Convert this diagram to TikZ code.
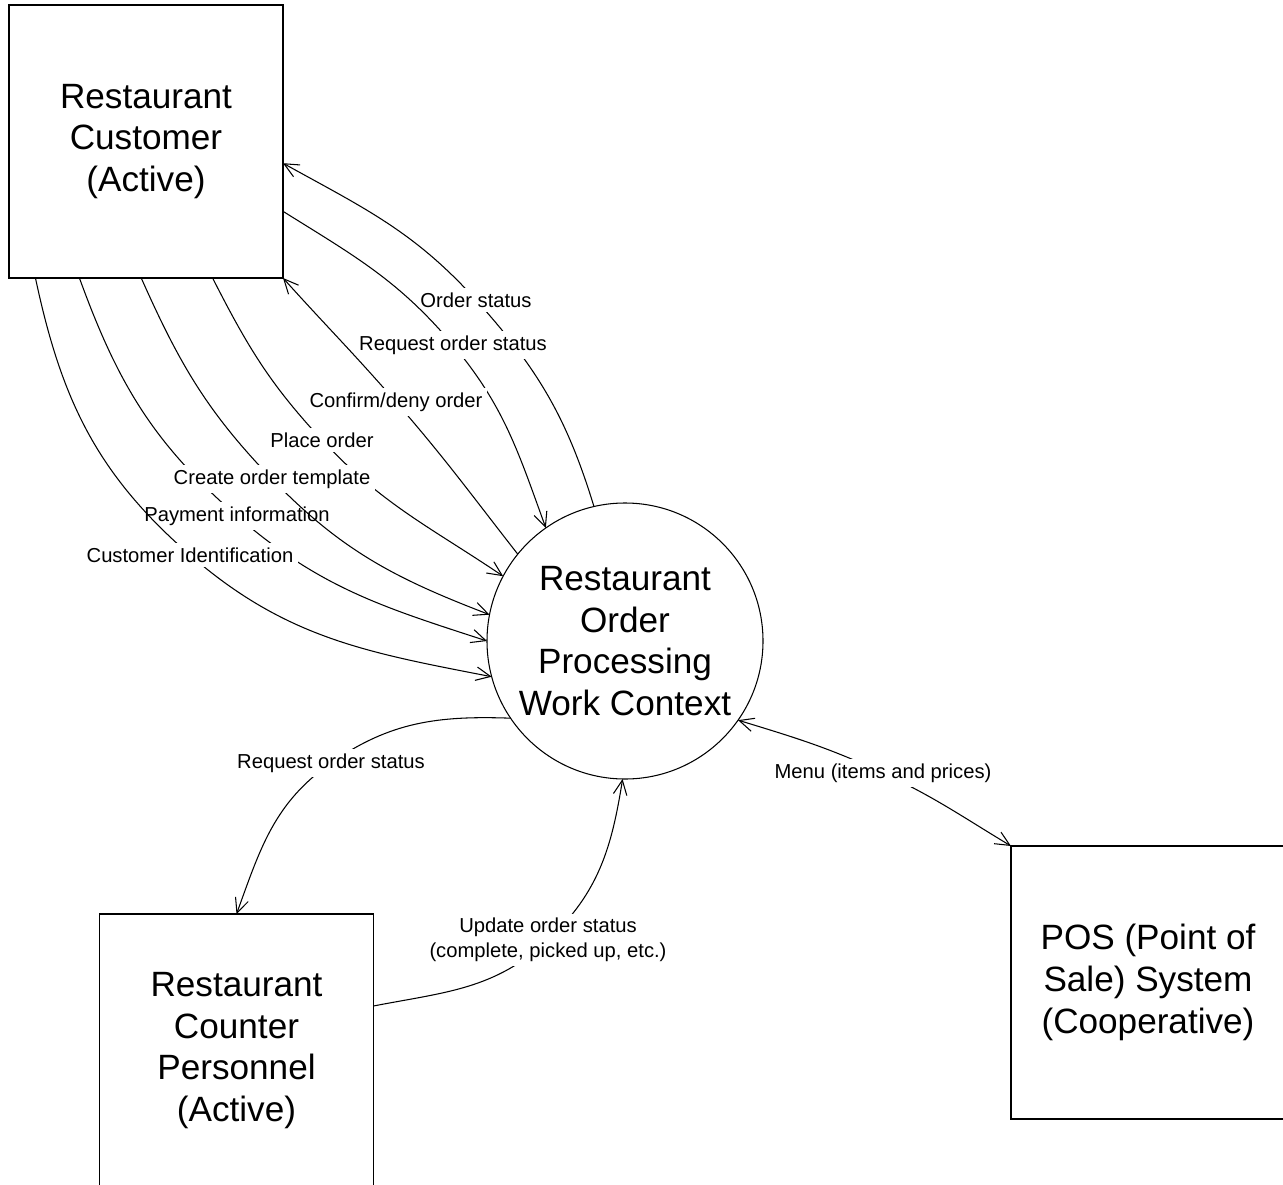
\documentclass[tikz,border=0pt]{standalone}
\usepackage{fontspec}
\setmainfont{Liberation Sans}
\usepackage{tikz}
\usetikzlibrary{arrows.meta}

\tikzset{
  >={Straight Barb[length=2.9mm,width=2.7mm]},
  entity/.style={draw, line width=0.6pt, minimum width=54.8mm, minimum height=54.6mm,
    inner sep=0pt, outer sep=0pt, align=center, font=\fontsize{20}{23.8}\selectfont},
  process/.style={draw, circle, line width=0.6pt, minimum size=55.2mm,
    inner sep=0pt, outer sep=0pt, align=center, font=\fontsize{20}{23.8}\selectfont},
  flow/.style={->, line width=0.6pt},
  flowlbl/.style={fill=white, inner sep=2.5pt, align=center, font=\fontsize{11.5}{14.2}\selectfont}
}

\begin{document}
\begin{tikzpicture}[x=0.2mm, y=0.2mm]

\useasboundingbox (0,0) rectangle (1283,-1185);
\clip (0,0) rectangle (1283,-1185);

\node [entity] (cust) at (146,-141.5) {Restaurant\\Customer\\(Active)};
\node [process] (proc) at (625,-641) {Restaurant\\Order\\Processing\\Work Context};
\node [entity] (counter) at (236.5,-1050.5) {Restaurant\\Counter\\Personnel\\(Active)};
\node [entity, minimum width=56mm] (pos) at (1151,-982.5) {\hspace*{-1.2mm}POS (Point of\\\hspace*{-1.2mm}Sale) System\\\hspace*{-1.2mm}(Cooperative)};

\coordinate (lOrdStat) at (476,-300);
\coordinate (lReqTop) at (453,-345);
\coordinate (lConfirm) at (396,-402);
\coordinate (lPlace) at (322,-440);
\coordinate (lTemplate) at (272,-479);
\coordinate (lPay) at (237,-516);
\coordinate (lCustId) at (190,-555);
\coordinate (lReqBot) at (331,-763);
\coordinate (lUpdate) at (548,-940);
\coordinate (lMenu) at (883,-773);

\draw [flow] (proc.103) to[out=107,in=-48] (lOrdStat) to[out=132,in=-29] (cust.-9);
\node [flowlbl] (tOrdStat) at (lOrdStat) {Order status};

\draw [flow] (cust.-27) to[out=-32,in=130] (lReqTop) to[out=-50,in=110] (proc.125);
\node [flowlbl] (tReqTop) at (lReqTop) {Request order status};

\draw [flow] (proc.141) to[out=128,in=-49] (lConfirm) to[out=131,in=-48] (cust.south east);
\node [flowlbl] (tConfirm) at (lConfirm) {Confirm/deny order};

\draw [flow] (cust.-64) to[out=-63,in=133] (lPlace) to[out=-47,in=146] (proc.152);
\node [flowlbl] (tPlace) at (lPlace) {Place order};

\draw [flow] (cust.-116.5) to[out=-70,in=139] (lPay) to[out=-41,in=162] (proc.180);
\node [flowlbl] (tPay) at (lPay) {Payment information};

\draw [flow] (cust.-92.5) to[out=-66,in=134] (lTemplate) to[out=-46,in=159] (proc.169);
\node [flowlbl] (tTemplate) at (lTemplate) {Create order template};

\draw [flow] (cust.-129.6) to[out=-78,in=139] (lCustId) to[out=-41,in=169] (proc.195);
\node [flowlbl] (tCustId) at (lCustId) {Customer Identification};

\draw [flow] (proc.214.5) to[out=178,in=35] (lReqBot) to[out=215,in=70] (counter.north);
\node [flowlbl] (tReqBot) at (lReqBot) {Request order status};

\draw [flow] (counter.18) to[out=11,in=-137] (lUpdate) to[out=43,in=-99] (proc.-91);
\node [flowlbl] (tUpdate) at (lUpdate) {Update order status\\(complete, picked up, etc.)};

\draw [flow, <->] (proc.-35.5) to[out=-17,in=155] (lMenu) to[out=-25,in=149] (pos.north west);
\node [flowlbl] (tMenu) at (lMenu) {Menu (items and prices)};

\end{tikzpicture}
\end{document}
